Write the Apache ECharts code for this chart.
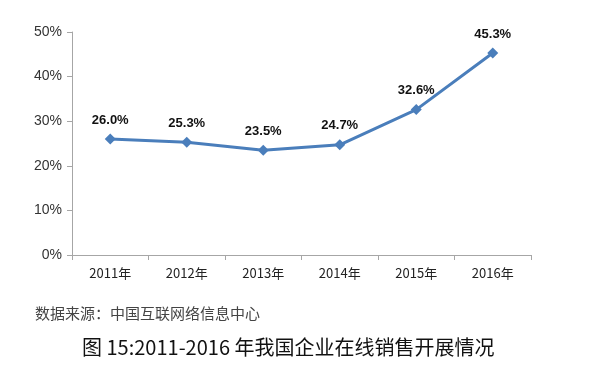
<!DOCTYPE html>
<html><head><meta charset="utf-8">
<script src="https://cdn.jsdelivr.net/npm/echarts@6/dist/echarts.min.js"></script>
<style>html,body{margin:0;padding:0;background:#fff}#c{width:600px;height:366px}</style>
</head><body><div id="c"></div>
<script>
const categories = ['2011年','2012年','2013年','2014年','2015年','2016年'];
const values = [26.0, 25.3, 23.5, 24.7, 32.6, 45.3];
const sourceText = '数据来源：中国互联网络信息中心';
const titleText = '图 15:2011-2016 年我国企业在线销售开展情况';

const chart = echarts.init(document.getElementById('c'), null, {renderer:'canvas'});
chart.setOption({
  backgroundColor:'#fff',
  animation:false,
  title:[
    {text:sourceText, left:30, top:301, textStyle:{fontFamily:'Noto Sans CJK SC', fontSize:15, fontWeight:'normal', color:'#444'}},
    {text:titleText, left:77, top:332, textStyle:{fontFamily:'Noto Sans CJK SC', fontSize:20, fontWeight:'normal', color:'#111'}}
  ],
  grid:{left:72, right:69, top:32, bottom:111, containLabel:false},
  xAxis:{
    type:'category', data:categories, boundaryGap:true,
    axisLine:{lineStyle:{color:'#a6a6a6', width:1}},
    axisTick:{show:true, length:5, alignWithLabel:false, lineStyle:{color:'#a6a6a6'}},
    axisLabel:{color:'#222', fontSize:13, fontFamily:'Noto Sans CJK SC', margin:12}
  },
  yAxis:{
    type:'value', min:0, max:50, interval:10,
    axisLine:{show:true, lineStyle:{color:'#a6a6a6', width:1}},
    axisTick:{show:true, length:5, lineStyle:{color:'#a6a6a6'}},
    splitLine:{show:false},
    axisLabel:{color:'#333', fontSize:14, fontFamily:'Liberation Sans', margin:10, formatter:'{value}%'}
  },
  series:[{
    type:'line', data:values,
    symbol:'diamond', symbolSize:11,
    lineStyle:{color:'#4a7ebb', width:3},
    itemStyle:{color:'#4a7ebb'},
    label:{show:true, position:'top', distance:7, color:'#111', fontWeight:'bold', fontSize:13, fontFamily:'Liberation Sans',
      formatter:p=>p.value.toFixed(1)+'%'}
  }]
});
</script></body></html>
